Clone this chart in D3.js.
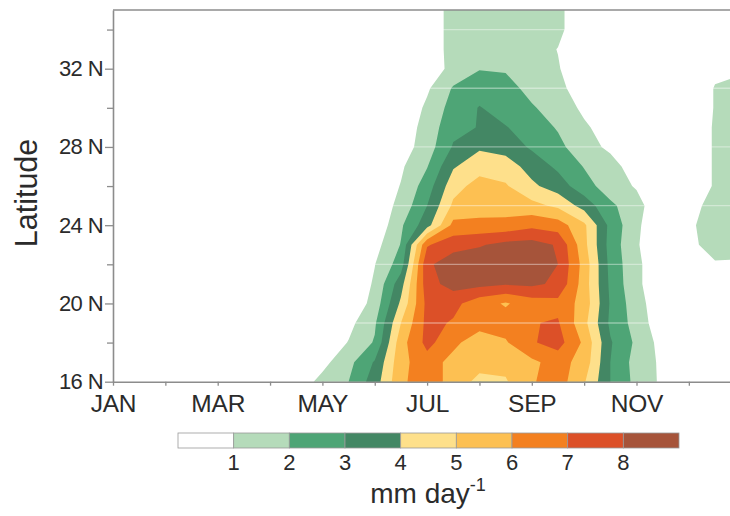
<!DOCTYPE html>
<html>
<head>
<meta charset="utf-8">
<script src="https://cdn.jsdelivr.net/npm/d3@7"></script>
<style>
  body { margin: 0; background: #fff; }
  text { font-family: "Liberation Sans", Arial, Helvetica, sans-serif; fill: #2b2b2b; }
</style>
</head>
<body>
<script>

// month names (ticks every month, labels every other month)
const months = ["JAN","FEB","MAR","APR","MAY","JUN","JUL","AUG","SEP","OCT","NOV","DEC"];
const latTicks = [16, 18, 20, 22, 24, 26, 28, 30, 32, 34];
const latLabels = [16, 20, 24, 28, 32];

// contour levels (mm/day) and fills for each band, lowest first
const levels = [1, 2, 3, 4, 5, 6, 7, 8];
const bandColors = ["#ffffff", "#b5dbba", "#4ea576", "#438764", "#fee08b",
                    "#fdc052", "#f38020", "#dc5028", "#a6543a"];

// rainfall grid: one row per degree of latitude, one column per half month
// (col 0 = 1 Jan, col 24 = end of Dec)
const latitudes = [16,17,18,19,20,21,22,23,24,25,26,27,28,29,30,31,32,33,34,35];
const colStep = 0.5;
const r16 = [0,0,0,0,0,0,0,0.4,1.3,2.0,3.5,5.8,6.6,5.6,4.7,4.9,5.9,6.5,5.1,3.0,1.7,0.8,0,0,0];
const r17 = [0,0,0,0,0,0,0,0.2,0.7,1.7,3.1,5.7,6.6,5.6,5.4,5.3,5.8,6.4,5.6,3.0,1.6,0.8,0,0,0];
const r18 = [0,0,0,0,0,0,0,0,0.2,1.05,2.1,5.6,7.3,6.3,5.3,5.9,6.9,7.4,5.8,3.1,1.8,0.6,0,0,0];
const r19 = [0,0,0,0,0,0,0,0,0,0.7,1.85,5.0,7.3,6.9,6.5,6.4,6.95,7.1,5.3,2.8,1.6,0.3,0,0,0];
const r20 = [0,0,0,0,0,0,0,0,0,0.1,1.4,4.2,7.3,7.3,6.4,5.9,6.5,6.7,5.6,2.9,1.4,0.3,0,0,0];
const r21 = [0,0,0,0,0,0,0,0,0,0,1.15,3.6,7.6,8.4,8.3,8.1,8.2,7.8,5.5,2.8,1.2,0.3,0,0,0];
const r22 = [0,0,0,0,0,0,0,0,0,0,0.97,2.5,7.8,8.6,8.7,8.6,8.6,8.0,5.6,2.7,1.2,0.3,0.3,0.9,0.9];
const r23 = [0,0,0,0,0,0,0,0,0,0,0.63,2.05,6.9,7.6,7.9,8.3,8.4,7.9,5.3,2.6,1.1,0.2,0.75,1.4,1.3];
const r24 = [0,0,0,0,0,0,0,0,0,0,0.15,1.85,3.6,6.3,6.3,6.35,6.75,6.5,5.2,2.7,1.2,0.1,0.85,1.4,1.4];
const r25 = [0,0,0,0,0,0,0,0,0,0,0.3,1.3,3.0,5.2,5.5,5.5,5.3,4.8,3.6,2.2,1.4,0.1,0.7,1.3,1.3];
const r26 = [0,0,0,0,0,0,0,0,0,0,0.2,1.05,2.5,4.6,5.4,5.1,4.2,3.5,2.4,1.5,0.9,0,0.3,1.1,1.2];
const r27 = [0,0,0,0,0,0,0,0,0,0,0,0.85,1.95,3.9,4.6,4.5,3.6,2.8,1.95,1.3,0.6,0,0.3,1.1,1.2];
const r28 = [0,0,0,0,0,0,0,0,0,0,0,0.5,1.5,3.1,3.85,3.6,2.85,2.3,1.3,0.85,0.2,0,0.3,1.1,1.2];
const r29 = [0,0,0,0,0,0,0,0,0,0,0,0.35,1.4,2.7,3.05,3.05,2.6,1.9,1.15,0.55,0,0,0.3,1.1,1.2];
const r30 = [0,0,0,0,0,0,0,0,0,0,0,0.1,1.2,2.4,3.05,2.6,2.1,1.55,0.8,0.2,0,0,0.3,1.05,1.2];
const r31 = [0,0,0,0,0,0,0,0,0,0,0,0,0.85,2.1,2.6,2.35,1.7,1.2,0.6,0,0,0,0.3,1.05,1.2];
const r32 = [0,0,0,0,0,0,0,0,0,0,0,0,0.4,1.3,1.95,1.9,1.4,1.05,0.5,0,0,0,0.2,0.8,0.9];
const r33 = [0,0,0,0,0,0,0,0,0,0,0,0,0.4,1.35,1.7,1.6,1.3,0.98,0.3,0,0,0,0,0,0];
const r34 = [0,0,0,0,0,0,0,0,0,0,0,0,0.4,1.35,1.6,1.6,1.4,1.2,0.4,0,0,0,0,0,0];
const r35 = [0,0,0,0,0,0,0,0,0,0,0,0,0.4,1.35,1.6,1.6,1.4,1.2,0.4,0,0,0,0,0,0];

// light streaks across the image (every 3 degrees)
const streakLats = [19, 22, 25, 28, 31, 34];

const W = 730, H = 516;
const plotLeft = 113, plotTop = 10;
const plotW = 617, plotH = 371.7;

const svg = d3.select("body").append("svg")
  .attr("width", W)
  .attr("height", H);

const x = d3.scaleLinear().domain([0, 12]).range([plotLeft, plotLeft + 12 * 52.35]);
const y = d3.scaleLinear().domain([16, 35]).range([plotTop + plotH, plotTop]);

svg.append("clipPath").attr("id", "plot")
  .append("rect")
  .attr("x", plotLeft).attr("y", plotTop)
  .attr("width", plotW).attr("height", plotH);

// filled contours
const rows = [r16,r17,r18,r19,r20,r21,r22,r23,r24,r25,r26,r27,r28,r29,r30,r31,r32,r33,r34,r35];
const nx = rows[0].length, ny = rows.length;
const bands = d3.contours().size([nx, ny]).thresholds(levels)(rows.flat());

const toPlot = d3.geoTransform({
  point: function(px, py) {
    this.stream.point(x((px - 0.5) * colStep), y(latitudes[0] + (py - 0.5)));
  }
});
const path = d3.geoPath(toPlot);

const field = svg.append("g").attr("clip-path", "url(#plot)");
field.selectAll("path")
  .data(bands)
  .enter()
  .append("path")
  .attr("d", path)
  .attr("fill", (d, i) => bandColors[i + 1])
  .attr("stroke", "none");

field.selectAll("line.streak")
  .data(streakLats)
  .enter()
  .append("line")
  .attr("class", "streak")
  .attr("x1", plotLeft).attr("x2", plotLeft + plotW)
  .attr("y1", d => y(d)).attr("y2", d => y(d))
  .attr("stroke", "#fff")
  .attr("stroke-opacity", 0.4)
  .attr("stroke-width", 1.3);

// frame
const axisColor = "#8c8c8c";
svg.append("line")
  .attr("x1", plotLeft).attr("x2", plotLeft + plotW)
  .attr("y1", plotTop).attr("y2", plotTop)
  .attr("stroke", axisColor).attr("stroke-width", 1.6);

const yAxis = svg.append("g")
  .attr("transform", `translate(${plotLeft},0)`)
  .call(d3.axisLeft(y)
    .tickValues(latTicks)
    .tickSize(8)
    .tickSizeOuter(0)
    .tickPadding(2)
    .tickFormat(d => latLabels.includes(d) ? d + " N" : ""));

yAxis.selectAll(".tick line")
  .attr("x2", d => latLabels.includes(d) ? -8 : -6);

const xAxis = svg.append("g")
  .attr("transform", `translate(0,${plotTop + plotH})`)
  .call(d3.axisBottom(x)
    .tickValues(d3.range(months.length))
    .tickSize(4)
    .tickSizeOuter(0)
    .tickPadding(9)
    .tickFormat(i => i % 2 === 0 ? months[i] : ""));

[xAxis, yAxis].forEach(g => {
  g.select(".domain").attr("stroke", axisColor).attr("stroke-width", 1.6);
  g.selectAll(".tick line").attr("stroke", axisColor).attr("stroke-width", 1.3);
  g.selectAll(".tick text")
    .attr("fill", "#2b2b2b")
    .style("font-family", "'Liberation Sans', Arial, sans-serif");
});
yAxis.selectAll(".tick text")
  .style("font-size", "22px")
  .style("letter-spacing", "-0.6px");
xAxis.selectAll(".tick text")
  .style("font-size", "24.5px")
  .style("letter-spacing", "-0.2px");

svg.append("text")
  .attr("transform", `translate(37,${plotTop + 183}) rotate(-90)`)
  .attr("text-anchor", "middle")
  .style("font-size", "30.5px")
  .text("Latitude");

// colour bar legend
const lx = d3.scaleLinear().domain([0, 9]).range([178, 679]);
const legend = svg.append("g");
legend.selectAll("rect")
  .data(bandColors)
  .enter()
  .append("rect")
  .attr("x", (d, i) => lx(i))
  .attr("y", 433)
  .attr("width", lx(1) - lx(0))
  .attr("height", 15)
  .attr("fill", d => d)
  .attr("stroke", "#9a9a9a")
  .attr("stroke-width", 0.8);

legend.selectAll("text")
  .data(levels)
  .enter()
  .append("text")
  .attr("x", d => lx(d))
  .attr("y", 470)
  .attr("text-anchor", "middle")
  .style("font-size", "22px")
  .text(d => d);

const unit = svg.append("text")
  .attr("x", 428)
  .attr("y", 503)
  .attr("text-anchor", "middle")
  .style("font-size", "28px")
  .text("mm day");
unit.append("tspan")
  .attr("dy", -12)
  .style("font-size", "18px")
  .text("-1");

</script>
</body>
</html>
